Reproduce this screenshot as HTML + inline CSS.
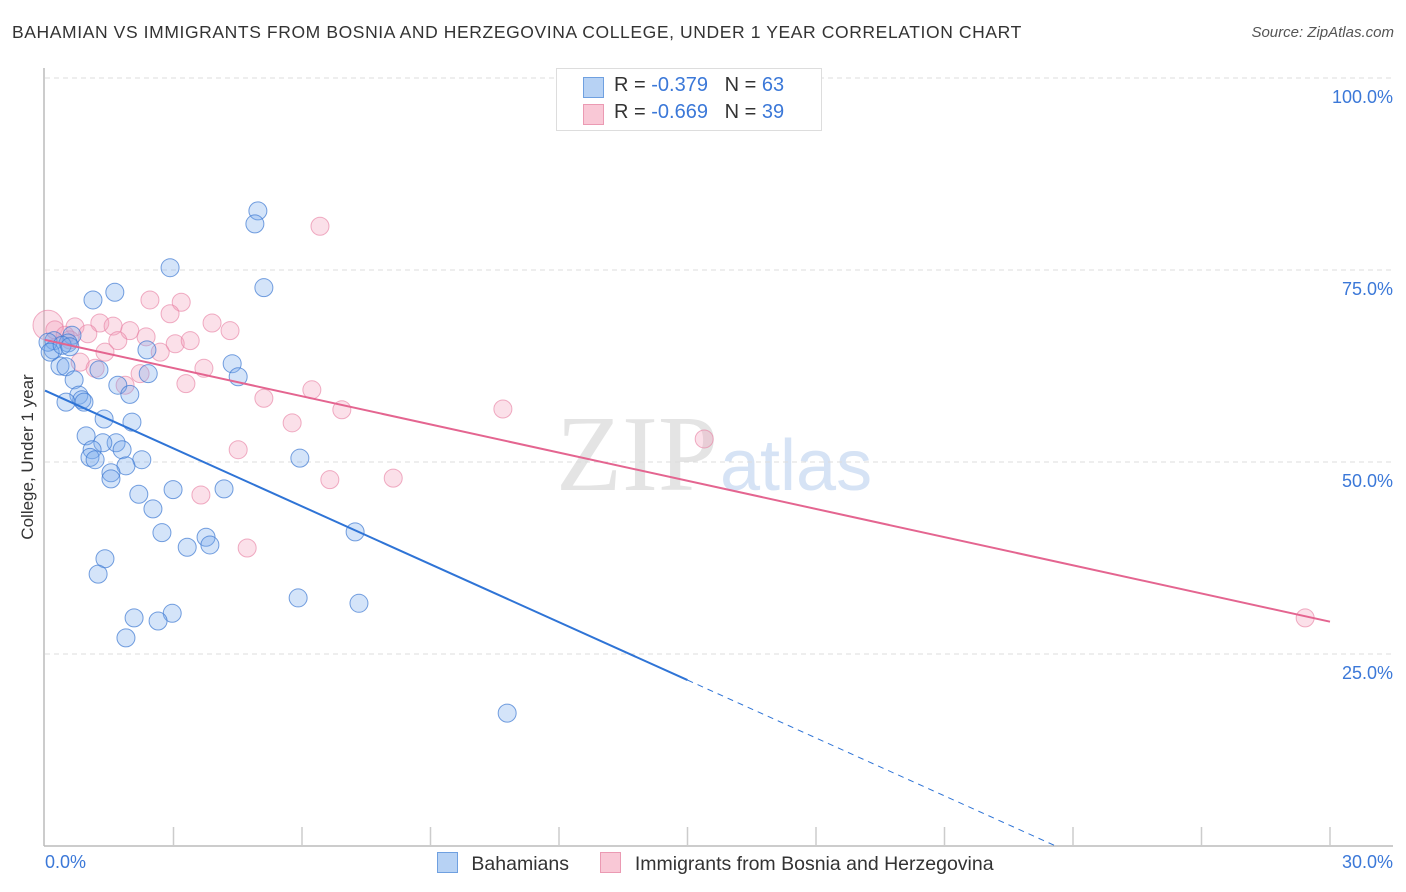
<!DOCTYPE html>
<html><head><meta charset="utf-8">
<style>
body{margin:0;background:#fff;font-family:"Liberation Sans",sans-serif;}
#wrap{position:relative;width:1406px;height:892px;overflow:hidden;}
.t{position:absolute;white-space:nowrap;}
</style></head>
<body>
<div id="wrap">
<div class="t" style="left:12px;top:22px;font-size:17.5px;letter-spacing:0.6px;color:#333;">BAHAMIAN VS IMMIGRANTS FROM BOSNIA AND HERZEGOVINA COLLEGE, UNDER 1 YEAR CORRELATION CHART</div>
<div class="t" style="right:12px;top:24px;font-size:15px;color:#555;font-style:italic;">Source: ZipAtlas.com</div>
<svg id="svg" width="1406" height="892" style="position:absolute;left:0;top:0;">
<text x="718" y="490" font-size="108" font-family="Liberation Serif,serif" fill="#e4e4e4" text-anchor="end">ZIP</text>
<text x="720" y="490" font-size="72" font-family="Liberation Sans,sans-serif" fill="#d6e3f5">atlas</text>
</svg>
<div class="t" style="left:28px;top:457px;font-size:17px;color:#333;transform:translate(-50%,-50%) rotate(-90deg);">College, Under 1 year</div>
<div style="position:absolute;left:556px;top:68px;width:264px;height:61px;border:1px solid #ddd;background:#fff;font-size:20px;">
 <div style="position:absolute;left:26px;top:8px;width:19px;height:19px;background:#b7d2f4;border:1px solid #6fa0e0;"></div>
 <div class="t" style="left:57px;top:5px;color:#333;">R = <span style="color:#3b78d8">-0.379</span>&nbsp;&nbsp;&nbsp;N = <span style="color:#3b78d8">63</span></div>
 <div style="position:absolute;left:26px;top:35px;width:19px;height:19px;background:#f9c8d6;border:1px solid #eb9ab3;"></div>
 <div class="t" style="left:57px;top:32px;color:#333;">R = <span style="color:#3b78d8">-0.669</span>&nbsp;&nbsp;&nbsp;N = <span style="color:#3b78d8">39</span></div>
</div>
<div class="t" style="left:45px;top:852px;font-size:18px;color:#3b78d8;">0.0%</div>
<div class="t" style="right:13px;top:852px;font-size:18px;color:#3b78d8;">30.0%</div>
<div style="position:absolute;left:437px;top:852px;font-size:19.5px;color:#333;">
 <span style="display:inline-block;width:19px;height:19px;background:#b7d2f4;border:1px solid #6fa0e0;vertical-align:-3px;"></span>
 <span style="margin-left:8px;">Bahamians</span>
 <span style="display:inline-block;width:19px;height:19px;background:#f9c8d6;border:1px solid #eb9ab3;vertical-align:-3px;margin-left:26px;"></span>
 <span style="margin-left:8px;">Immigrants from Bosnia and Herzegovina</span>
</div>
</div>
<script>
const yTicks=[100,75,50,25];
const yTickLabels=["100.0%","75.0%","50.0%","25.0%"];
const blueX=[4.97,4.90,2.92,5.11,1.63,1.12,0.63,0.21,0.54,0.19,2.38,2.41,4.37,4.51,0.35,0.49,1.26,0.68,1.70,0.79,0.86,1.98,0.49,0.91,1.38,2.03,0.96,1.66,1.35,1.10,1.05,1.17,1.80,2.26,1.89,1.54,1.54,5.95,2.19,2.99,4.18,2.52,2.73,7.24,3.76,3.32,3.85,1.40,1.24,5.91,7.33,2.97,2.08,2.64,1.89,10.79,0.07,0.12,0.40,0.58];
const blueY=[82.7,81.0,75.3,72.7,72.1,71.1,66.5,65.8,65.5,64.6,64.6,61.5,62.8,61.1,62.5,62.4,62.0,60.7,60.0,58.7,58.1,58.8,57.8,57.8,55.6,55.2,53.4,52.5,52.5,51.6,50.6,50.3,51.6,50.3,49.5,48.6,47.8,50.5,45.8,46.4,46.5,43.9,40.8,40.9,40.2,38.9,39.2,37.4,35.4,32.3,31.6,30.3,29.7,29.3,27.1,17.3,65.6,64.3,65.2,65.0];
const pinkX=[6.42,2.45,3.18,2.92,3.90,4.32,0.07,0.70,1.28,1.98,1.59,2.36,1.70,3.04,3.39,1.00,2.69,1.40,0.82,3.71,2.22,1.87,3.29,6.23,5.11,6.93,10.69,5.77,4.51,15.39,6.65,8.13,3.64,4.72,29.42,0.23,0.47,0.58,1.17];
const pinkY=[80.7,71.1,70.8,69.3,68.1,67.1,67.8,67.6,68.1,67.1,67.7,66.3,65.8,65.4,65.8,66.7,64.3,64.3,63.0,62.2,61.5,60.0,60.2,59.4,58.3,56.8,56.9,55.1,51.6,53.0,47.7,47.9,45.7,38.8,29.7,67.2,66.5,65.9,62.2];
const blueTrend=[59.3,-2.513];
const pinkTrend=[65.9,-1.223];
const X0=45,X1=1330,Y0=846,Y100=78;
const sx=v=>X0+(v/30)*(X1-X0);
const sy=v=>Y0-(v/100)*(Y0-Y100);
const svg=document.getElementById('svg');
const NS='http://www.w3.org/2000/svg';
function mk(tag,attrs){const e=document.createElementNS(NS,tag);for(const k in attrs)e.setAttribute(k,attrs[k]);svg.appendChild(e);return e;}
yTicks.forEach((t,i)=>{
 const g=mk('line',{x1:45,x2:1393,y1:sy(t),y2:sy(t),stroke:'#ddd','stroke-dasharray':'5,4'});
 
 
 const tx=mk('text',{x:1393,y:sy(t)+25,'text-anchor':'end','font-size':18,fill:'#3b78d8','font-family':'Liberation Sans,sans-serif'});
 tx.textContent=yTickLabels[i];
 
 
});
const ax=mk('line',{x1:44,x2:44,y1:68,y2:846,stroke:'#bbb','stroke-width':1.5});


const bx=mk('line',{x1:44,x2:1393,y1:846,y2:846,stroke:'#bbb','stroke-width':1.5});


for(let i=1;i<=10;i++){
 const tk=mk('line',{x1:sx(i*3),x2:sx(i*3),y1:827,y2:846,stroke:'#ccc','stroke-width':1.5});
 
 
}
function dot(x,y,fill,stroke,r,name){
 const c=mk('circle',{cx:sx(x),cy:sy(y),r:r,fill:fill,stroke:stroke,'stroke-width':1});
 
 
}
pinkX.forEach((x,i)=>dot(x,pinkY[i],'rgba(244,160,188,0.32)','rgba(232,130,165,0.65)',i===6?15:9,'point-bosnia'));
blueX.forEach((x,i)=>dot(x,blueY[i],'rgba(120,170,235,0.32)','rgba(60,120,210,0.7)',9,'point-bahamian'));
const bl=mk('line',{x1:sx(0),y1:sy(blueTrend[0]),x2:sx(15),y2:sy(blueTrend[0]+blueTrend[1]*15),stroke:'#2f74d6','stroke-width':2});


const xz=-blueTrend[0]/blueTrend[1];
const bd=mk('line',{x1:sx(15),y1:sy(blueTrend[0]+blueTrend[1]*15),x2:sx(xz),y2:sy(0),stroke:'#2f74d6','stroke-width':1,'stroke-dasharray':'6,5'});


const pl=mk('line',{x1:sx(0),y1:sy(pinkTrend[0]),x2:sx(30),y2:sy(pinkTrend[0]+pinkTrend[1]*30),stroke:'#e46590','stroke-width':2});


</script>
</body></html>
